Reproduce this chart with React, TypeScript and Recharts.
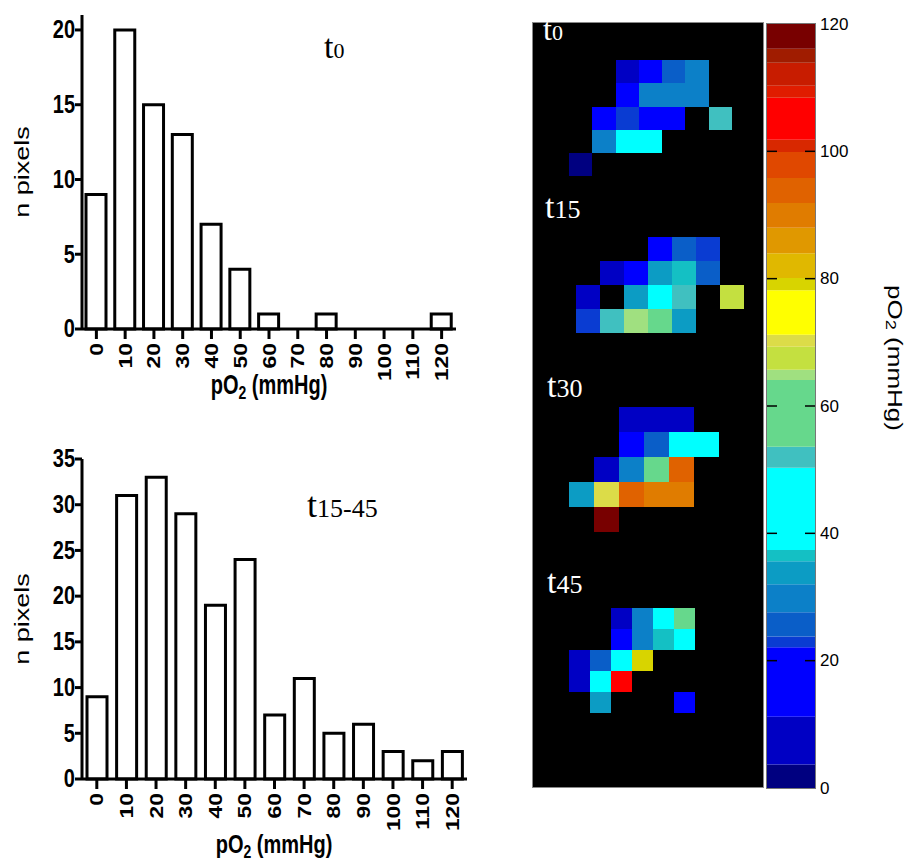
import React from "react";
import { BarChart, Bar, XAxis, YAxis, ScatterChart, Scatter } from "recharts";

// histogram bins (pO2, mmHg) and pixel counts
const pO2Bins = ["0", "10", "20", "30", "40", "50", "60", "70", "80", "90", "100", "110", "120"];
const countsT0 = [9, 20, 15, 13, 7, 4, 1, 0, 1, 0, 0, 0, 1];
const countsT1545 = [9, 31, 33, 29, 19, 24, 7, 11, 5, 6, 3, 2, 3];
const yTicksT0 = [0, 5, 10, 15, 20];
const yTicksT1545 = [0, 5, 10, 15, 20, 25, 30, 35];

// colour scale: band edges (mmHg) and the colour of each band
const colorEdges = [0, 3.7, 11.2, 22.1, 23.8, 27.6, 32, 35.6, 37.4, 50.3, 53.6, 64.1, 65.7, 69.3, 71.2, 78.2, 80.1, 84, 88, 91.9, 95.8, 99.9, 101.8, 108.4, 110.3, 113.9, 116.1, 120];
const colorSteps = [
  "#000080", "#0000c4", "#0000ff", "#0a3cd2", "#0a5ec8", "#0c80c8", "#0c9cc4", "#14c0c4",
  "#00ffff", "#40c0c0", "#66d88c", "#a0e080", "#c4e040", "#dcdc48", "#ffff00", "#d8d400",
  "#e0b800", "#e09800", "#e07c00", "#e06200", "#e04800", "#d82800", "#ff0000", "#e01c00",
  "#c81c00", "#a01c00", "#780000",
];
const colorbarTicks = [0, 20, 40, 60, 80, 100, 120];

// pO2 maps: [column, row, pO2]
const pixelsT0 = [
  [2, 0, 8], [3, 0, 16], [4, 0, 26], [5, 0, 30],
  [2, 1, 16], [3, 1, 30], [4, 1, 30], [5, 1, 30],
  [1, 2, 16], [2, 2, 23], [3, 2, 16], [4, 2, 16], [6, 2, 52],
  [1, 3, 30], [2, 3, 44], [3, 3, 44],
  [0, 4, 2],
];
const pixelsT15 = [
  [3, 0, 16], [4, 0, 26], [5, 0, 23],
  [1, 1, 8], [2, 1, 16], [3, 1, 34], [4, 1, 36.5], [5, 1, 26],
  [0, 2, 8], [2, 2, 34], [3, 2, 44], [4, 2, 52], [6, 2, 67],
  [0, 3, 23], [1, 3, 52], [2, 3, 65], [3, 3, 58], [4, 3, 34],
];
const pixelsT30 = [
  [2, 0, 9], [3, 0, 9], [4, 0, 9],
  [2, 1, 16], [3, 1, 26], [4, 1, 44], [5, 1, 44],
  [1, 2, 9], [2, 2, 30], [3, 2, 58], [4, 2, 93],
  [0, 3, 34], [1, 3, 70], [2, 3, 93], [3, 3, 89], [4, 3, 89],
  [1, 4, 118],
];
const pixelsT45 = [
  [2, 0, 9], [3, 0, 30], [4, 0, 44], [5, 0, 58],
  [2, 1, 16], [3, 1, 30], [4, 1, 36.5], [5, 1, 44],
  [0, 2, 9], [1, 2, 26], [2, 2, 44], [3, 2, 79],
  [0, 3, 9], [1, 3, 44], [2, 3, 105],
  [1, 4, 34], [5, 4, 16],
];

const SANS = "'Liberation Sans', Arial, Helvetica, sans-serif";
const SERIF = "'Liberation Serif', 'Times New Roman', serif";

function colorOf(v: number) {
  for (let i = 0; i < colorSteps.length; i++) {
    if (v < colorEdges[i + 1]) return colorSteps[i];
  }
  return colorSteps[colorSteps.length - 1];
}

// the original figure is stretched vertically, so the text is too
function YTick({ x, y, payload }: any) {
  return (
    <text transform={`translate(${x},${y}) scale(1,1.25)`} textAnchor="end" dominantBaseline="central"
      fontFamily={SANS} fontWeight="bold" fontSize={20} fill="#000">
      {payload.value}
    </text>
  );
}

function XTick({ x, y, payload }: any) {
  return (
    <text transform={`translate(${x},${y}) scale(1,1.27) rotate(-90)`} textAnchor="end" dominantBaseline="central"
      fontFamily={SANS} fontWeight="bold" fontSize={18} fill="#000">
      {payload.value}
    </text>
  );
}

function ColorbarTick({ x, y, payload }: any) {
  const ax = x - 5;
  const inner = payload.value > 0 && payload.value < 120;
  return (
    <g>
      {inner && <line x1={ax - 10} x2={ax} y1={y} y2={y} stroke="#000" strokeWidth={1.5} />}
      {inner && <line x1={ax - 48} x2={ax - 38} y1={y} y2={y} stroke="#000" strokeWidth={1.5} />}
      <text x={x} y={y} dominantBaseline="central" fontFamily={SANS} fontSize={17} fill="#000">
        {payload.value}
      </text>
    </g>
  );
}

function Histogram({ counts, ticks, max, width, height, top, bottom, right }: any) {
  const data = pO2Bins.map((b, i) => ({ bin: b, n: counts[i] }));
  const axisStyle = { stroke: "#000", strokeWidth: 3 };
  return (
    <BarChart width={width} height={height} data={data} margin={{ top, right: width - right, left: 0, bottom: 0 }} barCategoryGap={0}>
      <XAxis dataKey="bin" height={height - bottom} interval={0} tick={<XTick />} tickSize={10} tickMargin={4}
        axisLine={axisStyle} tickLine={axisStyle} />
      <YAxis width={82} domain={[0, max]} ticks={ticks} interval={0} tick={<YTick />} tickSize={7} tickMargin={0}
        axisLine={axisStyle} tickLine={axisStyle} />
      <Bar dataKey="n" barSize={20} fill="#fff" stroke="#000" strokeWidth={3} isAnimationActive={false} />
    </BarChart>
  );
}

function PixelMap({ pixels, cols, rows, cell }: any) {
  const data = pixels.map(([c, r, v]: number[]) => ({ x: c + 0.5, y: r + 0.5, v }));
  return (
    <ScatterChart width={cols * cell} height={rows * cell} margin={{ top: 0, right: 0, bottom: 0, left: 0 }}>
      <XAxis type="number" dataKey="x" domain={[0, cols]} hide />
      <YAxis type="number" dataKey="y" domain={[0, rows]} reversed hide />
      <Scatter data={data} isAnimationActive={false}
        shape={(p: any) => (
          <rect x={p.cx - cell / 2} y={p.cy - cell / 2} width={cell} height={cell}
            fill={colorOf(p.payload.v)} shapeRendering="crispEdges" />
        )} />
    </ScatterChart>
  );
}

function Colorbar() {
  const row: Record<string, number> = {};
  colorSteps.forEach((_, i) => { row[`s${i}`] = colorEdges[i + 1] - colorEdges[i]; });
  return (
    <BarChart width={110} height={800} data={[row]} margin={{ top: 24, right: 0, bottom: 12, left: 0 }} barCategoryGap={0}>
      <XAxis hide />
      <YAxis orientation="right" width={62} domain={[0, 120]} ticks={colorbarTicks} interval={0}
        axisLine={false} tickLine={false} tickSize={0} tickMargin={5} tick={<ColorbarTick />} />
      {colorSteps.map((c, i) => (
        <Bar key={i} dataKey={`s${i}`} stackId="cb" fill={c} isAnimationActive={false} />
      ))}
    </BarChart>
  );
}

function TimeLabel({ x, y, sub, t, d, fill }: any) {
  return (
    <text x={x} y={y} fontFamily={SERIF} fill={fill}>
      <tspan fontSize={t}>t</tspan>
      <tspan fontSize={d}>{sub}</tspan>
    </text>
  );
}

function PO2Title({ x, y, bold, size, sy, rotate }: any) {
  return (
    <text transform={`translate(${x},${y}) scale(1,${sy})${rotate ? ` rotate(${rotate})` : ""}`}
      textAnchor="middle" dominantBaseline={rotate ? "central" : "auto"} fontFamily={SANS}
      fontWeight={bold ? "bold" : "normal"} fontSize={size} fill="#000">
      <tspan>pO</tspan>
      <tspan fontSize={size * 0.7} dy={4}>2</tspan>
      <tspan dy={-4}> (mmHg)</tspan>
    </text>
  );
}

const abs = (left: number, top: number): React.CSSProperties => ({ position: "absolute", left, top });

export default function App() {
  return (
    <div style={{ position: "absolute", left: 0, top: 0, width: 916, height: 866, background: "#fff", overflow: "hidden" }}>
      <div style={abs(0, 0)}>
        <Histogram counts={countsT0} ticks={yTicksT0} max={21} width={470} height={410} top={15} bottom={329} right={456} />
      </div>
      <div style={abs(0, 420)}>
        <Histogram counts={countsT1545} ticks={yTicksT1545} max={35} width={480} height={446} top={39} bottom={359} right={467} />
      </div>

      <div style={{ ...abs(532, 22), width: 232, height: 766, background: "#000", border: "1px solid #888", boxSizing: "border-box" }} />
      <div style={abs(569, 60)}><PixelMap pixels={pixelsT0} cols={7} rows={5} cell={23.3} /></div>
      <div style={abs(576, 237)}><PixelMap pixels={pixelsT15} cols={7} rows={4} cell={24} /></div>
      <div style={abs(569, 407)}><PixelMap pixels={pixelsT30} cols={6} rows={5} cell={25} /></div>
      <div style={abs(569, 608)}><PixelMap pixels={pixelsT45} cols={6} rows={5} cell={21} /></div>

      <div style={abs(767, 0)}><Colorbar /></div>
      <div style={{ ...abs(766, 23), width: 50, height: 766, border: "1px solid #777", boxSizing: "border-box" }} />

      <svg width={916} height={866} style={{ ...abs(0, 0), pointerEvents: "none" }}>
        <text transform="translate(22,172) scale(1,1.35) rotate(-90)" textAnchor="middle" dominantBaseline="central"
          fontFamily={SANS} fontSize={20} fill="#000">n pixels</text>
        <text transform="translate(22,619) scale(1,1.35) rotate(-90)" textAnchor="middle" dominantBaseline="central"
          fontFamily={SANS} fontSize={20} fill="#000">n pixels</text>
        <PO2Title x={269} y={394} bold size={20} sy={1.35} />
        <PO2Title x={274} y={853} bold size={20} sy={1.3} />
        <PO2Title x={895} y={358} size={20} sy={1.3} rotate={90} />

        <TimeLabel x={324} y={58} sub="0" t={34} d={22} fill="#000" />
        <TimeLabel x={307} y={517} sub="15-45" t={36} d={26} fill="#000" />

        <TimeLabel x={543} y={40} sub="0" t={32} d={22} fill="#fff" />
        <TimeLabel x={545} y={218} sub="15" t={34} d={26} fill="#fff" />
        <TimeLabel x={547} y={397} sub="30" t={34} d={26} fill="#fff" />
        <TimeLabel x={547} y={593} sub="45" t={34} d={26} fill="#fff" />
      </svg>
    </div>
  );
}
